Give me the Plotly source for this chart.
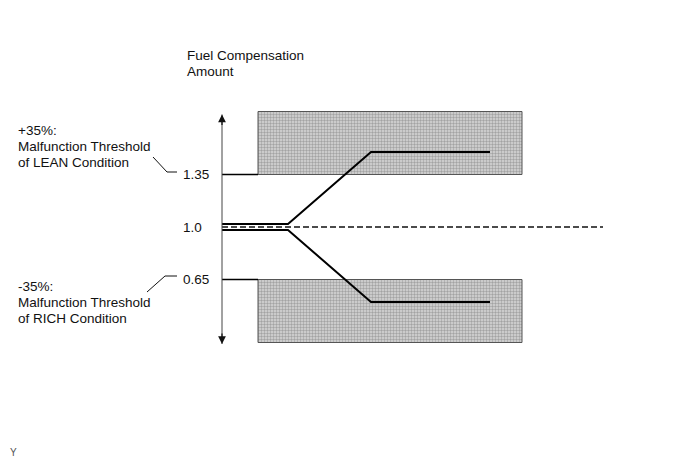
import plotly.graph_objects as go

# ---- data (schematic) ----
# time positions (arbitrary units, 0 = compensation axis)
t_line = [0, 66, 149, 268]          # start, deviation begins, settles, end
lean_values = [1.02, 1.02, 1.5, 1.5]  # compensation drifting lean
rich_values = [0.98, 0.98, 0.5, 0.5]  # compensation drifting rich
nominal_value = 1.0
t_nominal_end = 381
upper_threshold = 1.35
lower_threshold = 0.65
zone_top = 1.77
zone_bottom = 0.23
t_zone = [36, 300]
axis_range = [0.22, 1.75]
tick_labels = ["1.35", "1.0", "0.65"]
tick_values = [1.35, 1.0, 0.65]
lean_label = ["+35%:", "Malfunction Threshold", "of LEAN Condition"]
rich_label = ["-35%:", "Malfunction Threshold", "of RICH Condition"]
title_lines = ["Fuel Compensation", "Amount"]

# ---- page-pixel helpers for layout placement ----
W, H = 691, 459
PAD = 8           # default page body margin
X0 = 222          # page-pixel x of the value axis
Y1 = 227          # page-pixel y of value 1.0
SCALE = 150.0     # pixels per unit

def px(p):
    return p - X0

def py(q):
    return 1 + (Y1 - q) / SCALE

FONT = "Liberation Sans, Arial, sans-serif"
FS = 13.5

fig = go.Figure()

# shaded malfunction zones
for lo, hi in [(upper_threshold, zone_top), (zone_bottom, lower_threshold)]:
    fig.add_trace(go.Scatter(
        x=[t_zone[0], t_zone[1], t_zone[1], t_zone[0], t_zone[0]],
        y=[lo, lo, hi, hi, lo],
        mode="lines", fill="toself",
        fillcolor="#d0d0d0",
        fillpattern=dict(shape=".", bgcolor="#d8d8d8", fgcolor="#6e6e6e",
                         size=3, solidity=0.5),
        line=dict(color="#555555", width=1),
        hoverinfo="skip", showlegend=False))

# threshold lines from axis to zone
for v in [upper_threshold, lower_threshold]:
    fig.add_trace(go.Scatter(x=[0, t_zone[0]], y=[v, v], mode="lines",
                             line=dict(color="#000000", width=1.3),
                             hoverinfo="skip", showlegend=False))

# nominal dashed line
fig.add_trace(go.Scatter(x=[0, t_nominal_end], y=[nominal_value, nominal_value],
                         mode="lines",
                         line=dict(color="#111111", width=1.7, dash="6px,3px"),
                         hoverinfo="skip", showlegend=False))

# compensation lines
for vals in [lean_values, rich_values]:
    fig.add_trace(go.Scatter(x=t_line, y=vals, mode="lines",
                             line=dict(color="#000000", width=2),
                             hoverinfo="skip", showlegend=False))

# vertical axis
fig.add_trace(go.Scatter(x=[0, 0], y=axis_range, mode="lines",
                         line=dict(color="#444444", width=1),
                         hoverinfo="skip", showlegend=False))

annotations = []
# arrow heads
for tip, off in [(axis_range[1], 12), (axis_range[0], -12)]:
    annotations.append(dict(x=0, y=tip, xref="x", yref="y", ax=0, ay=off,
                            axref="pixel", ayref="pixel", text="",
                            showarrow=True, arrowhead=2, arrowsize=1.3,
                            arrowwidth=1.2, arrowcolor="#111111"))

def text_at(x, y, s, size=FS, color="#111111", anchor="left"):
    annotations.append(dict(x=px(x), y=py(y), xref="x", yref="y", text=s,
                            showarrow=False, xanchor=anchor, yanchor="middle",
                            font=dict(family=FONT, size=size, color=color)))

# tick labels
for lab, v in zip(tick_labels, tick_values):
    annotations.append(dict(x=px(181), y=v, xref="x", yref="y", text=lab,
                            showarrow=False, xanchor="left", yanchor="middle",
                            font=dict(family=FONT, size=FS, color="#111111")))

# title text
for i, s in enumerate(title_lines):
    text_at(185, 55 + 16 * i, s)

# left labels
for i, s in enumerate(lean_label):
    text_at(16, 130 + 16 * i, s)
for i, s in enumerate(rich_label):
    text_at(16, 286 + 16 * i, s)

# corner label (paper-anchored so it is not hidden at the range edge)
annotations.append(dict(x=0, y=py(452), xref="paper", yref="y", text="Y",
                        showarrow=False, xanchor="left", yanchor="middle",
                        font=dict(family=FONT, size=10, color="#555555")))

# leader lines
shapes = [
    dict(type="path", xref="x", yref="y",
         path=f"M {px(153)} {py(157)} L {px(167)} {py(172)} L {px(177)} {py(172)}",
         line=dict(color="#111111", width=1)),
    dict(type="path", xref="x", yref="y",
         path=f"M {px(147)} {py(292)} L {px(165)} {py(276)} L {px(177)} {py(276)}",
         line=dict(color="#111111", width=1)),
]

fig.update_layout(
    width=W - PAD, height=H - PAD,
    margin=dict(l=0, r=0, t=0, b=0),
    paper_bgcolor="white", plot_bgcolor="white",
    xaxis=dict(range=[px(PAD), px(W)], visible=False, fixedrange=True),
    yaxis=dict(range=[py(H), py(PAD)], visible=False, fixedrange=True),
    annotations=annotations, shapes=shapes,
    showlegend=False,
)

fig.write_html("out.html")
